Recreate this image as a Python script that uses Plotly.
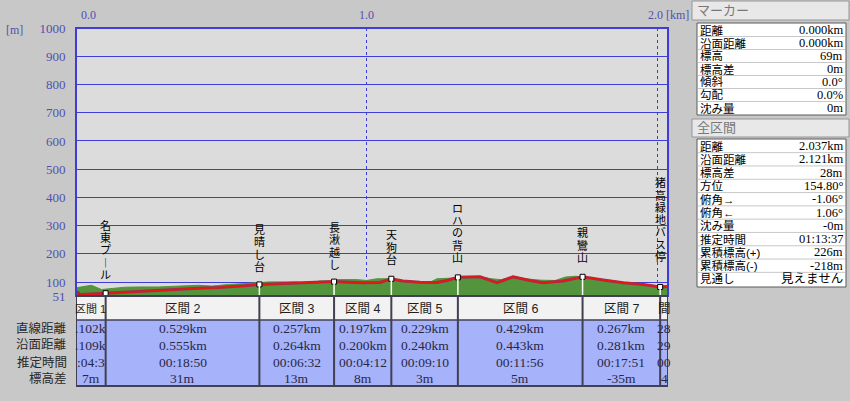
import plotly.graph_objects as go

# ---------------- data ----------------
route_km = [0.000, 0.050, 0.102, 0.160, 0.208, 0.260, 0.322, 0.380, 0.436, 0.490,
            0.529, 0.580, 0.631, 0.700, 0.780, 0.840, 0.888, 0.940, 0.987, 1.046,
            1.085, 1.125, 1.183, 1.242, 1.277, 1.314, 1.390, 1.449, 1.504, 1.562,
            1.607, 1.676, 1.743, 1.814, 1.883, 1.952, 2.010, 2.037]
route_elev = [55, 58, 61, 64, 67, 70, 72, 76, 79, 81,
              83, 87, 92, 94, 97, 99, 102, 100, 98, 99,
              112, 104, 100, 99, 106, 117, 119, 98, 119, 106,
              98, 104, 119, 108, 98, 92, 83, 85]

terrain_km = [0.000, 0.029, 0.053, 0.088, 0.122, 0.167, 0.215, 0.284, 0.353, 0.422,
              0.467, 0.525, 0.581, 0.629, 0.667, 0.760, 0.790, 0.815, 0.838, 0.884,
              0.897, 0.966, 1.000, 1.035, 1.080, 1.125, 1.218, 1.242, 1.286, 1.310,
              1.343, 1.394, 1.428, 1.463, 1.504, 1.545, 1.600, 1.649, 1.684, 1.718,
              1.739, 1.807, 1.866, 1.924, 1.979, 2.010, 2.037]
terrain_elev = [80, 86, 89, 74, 77, 82, 83, 83, 86, 89,
                86, 92, 95, 98, 101, 101, 97, 97, 104, 104,
                109, 109, 106, 112, 112, 101, 100, 112, 114, 116,
                115, 119, 112, 109, 119, 112, 107, 106, 118, 121,
                119, 107, 95, 92, 88, 85, 88]

wp_km = [0.102, 0.631, 0.888, 1.085, 1.314, 1.743, 2.010]
wp_elev = [61, 92, 102, 112, 117, 119, 83]
wp_names = ["名東プール", "見晴し台", "長湫越し", "天狗台", "ロハの背山", "親鸞山", "猪高緑地バス停"]

sec_bounds = [0.0, 0.102, 0.631, 0.888, 1.085, 1.314, 1.743, 2.010, 2.037]
sec_titles = ["区間 1", "区間 2", "区間 3", "区間 4", "区間 5", "区間 6", "区間 7", "間"]
row_labels = ["直線距離", "沿面距離", "推定時間", "標高差"]
straight_dist = [".102k", "0.529km", "0.257km", "0.197km", "0.229km", "0.429km", "0.267km", "28"]
surface_dist = [".109k", "0.555km", "0.264km", "0.200km", "0.240km", "0.443km", "0.281km", "29"]
est_time = [":04:3", "00:18:50", "00:06:32", "00:04:12", "00:09:10", "00:11:56", "00:17:51", "00"]
elev_diff = ["7m", "31m", "13m", "8m", "3m", "5m", "-35m", "4"]

y_ticks = [51, 100, 200, 300, 400, 500, 600, 700, 800, 900, 1000]
x_ticks = [0.0, 1.0, 2.0]
x_tick_text = ["0.0", "1.0", "2.0"]

marker_labels = ["距離", "沿面距離", "標高", "標高差", "傾斜", "勾配", "沈み量"]
marker_values = ["0.000km", "0.000km", "69m", "0m", "0.0°", "0.0%", "0m"]
total_labels = ["距離", "沿面距離", "標高差", "方位", "俯角→", "俯角←", "沈み量",
                "推定時間", "累積標高(+)", "累積標高(-)", "見通し"]
total_values = ["2.037km", "2.121km", "28m", "154.80°", "-1.06°", "1.06°", "-0m",
                "01:13:37", "226m", "-218m", "見えません"]

# ---------------- geometry helpers ----------------
W, H = 850, 401
ML, MR, MT, MB = 76, 182, 28, 105
PW, PH = W - ML - MR, H - MT - MB


def px(x):
    return (x - ML) / PW


def py(y):
    return (H - MB - y) / PH


JP = "Liberation Sans, Noto Sans CJK JP"
SERIF = "Liberation Serif, Noto Sans CJK JP"
BLUE = "rgb(62,62,215)"
TICKC = "rgb(80,80,175)"
DARK = "rgb(64,64,80)"

fig = go.Figure()

fig.add_trace(go.Scatter(x=terrain_km, y=terrain_elev, mode="lines", fill="tozeroy",
                         line=dict(color="rgb(84,148,60)", width=1),
                         fillcolor="rgb(84,148,60)", hoverinfo="skip"))
fig.add_trace(go.Scatter(x=route_km, y=route_elev, mode="lines",
                         line=dict(color="rgb(150,50,80)", width=3), hoverinfo="skip"))
fig.add_trace(go.Scatter(x=route_km, y=route_elev, mode="lines",
                         line=dict(color="rgb(232,22,22)", width=1.8), hoverinfo="skip"))

shapes = []
annotations = []

# white drop lines at waypoints
for k, e in zip(wp_km, wp_elev):
    shapes.append(dict(type="line", xref="x", yref="y", x0=k, x1=k, y0=51, y1=e,
                       line=dict(color="white", width=1.5), layer="above"))

fig.add_trace(go.Scatter(x=wp_km, y=wp_elev, mode="markers",
                         marker=dict(symbol="square", size=5, color="white",
                                     line=dict(color="black", width=1)), hoverinfo="skip"))
fig.add_trace(go.Scatter(x=route_km[:1], y=route_elev[:1], mode="markers",
                         marker=dict(symbol="circle", size=8, color="rgb(200,30,30)",
                                     line=dict(color="rgb(120,60,40)", width=1)), hoverinfo="skip"))

# plot frame
shapes.append(dict(type="rect", xref="paper", yref="paper", x0=0, x1=1, y0=0, y1=1,
                   line=dict(color=BLUE, width=2), layer="above"))

# waypoint vertical labels (one annotation per character, stacked)
label_bottom = [281, 273, 271, 266, 264, 264, 263]
VP = 12.3
for k, name, bot in zip(wp_km, wp_names, label_bottom):
    chars = list(name.replace("ー", "︱"))
    n = len(chars)
    for i, ch in enumerate(chars):
        cy = bot - (n - 1 - i) * VP - VP / 2
        annotations.append(dict(x=k, y=py(cy), xref="x", yref="paper", text=ch,
                                showarrow=False, xanchor="center", yanchor="middle",
                                borderpad=0,
                                font=dict(family=JP, size=11, color="black")))

# top axis labels
top_shift = [12, 0, -2]
for xv, tt, sh in zip(x_ticks, x_tick_text, top_shift):
    annotations.append(dict(x=xv, y=py(15), xref="x", yref="paper", text=tt, xshift=sh,
                            showarrow=False, xanchor="center", yanchor="middle",
                            font=dict(family=SERIF, size=12, color=TICKC)))
annotations.append(dict(x=px(664), y=py(15), xref="paper", yref="paper", text="[km]",
                        showarrow=False, xanchor="left", yanchor="middle",
                        font=dict(family=SERIF, size=12, color=TICKC)))
annotations.append(dict(x=px(4), y=py(30), xref="paper", yref="paper", text="[m]",
                        showarrow=False, xanchor="left", yanchor="middle",
                        font=dict(family=SERIF, size=12, color=TICKC)))

# ---------------- section table ----------------
T0, T1, T2 = 297, 320, 386
shapes.append(dict(type="rect", xref="x", yref="paper", x0=sec_bounds[0], x1=sec_bounds[-1],
                   y0=py(T1), y1=py(T0), fillcolor="rgb(242,242,242)", line=dict(width=0)))
shapes.append(dict(type="rect", xref="x", yref="paper", x0=sec_bounds[0], x1=sec_bounds[-1],
                   y0=py(T2), y1=py(T1), fillcolor="rgb(166,178,250)", line=dict(width=0)))
shapes.append(dict(type="line", xref="x", yref="paper", x0=sec_bounds[0], x1=sec_bounds[-1],
                   y0=py(T1), y1=py(T1), line=dict(color=DARK, width=1.5)))
for b in sec_bounds[1:-1]:
    shapes.append(dict(type="line", xref="x", yref="paper", x0=b, x1=b,
                       y0=py(T2), y1=py(T0), line=dict(color=DARK, width=2)))
shapes.append(dict(type="rect", xref="x", yref="paper", x0=sec_bounds[0], x1=sec_bounds[-1],
                   y0=py(T2), y1=py(296), line=dict(color=DARK, width=2)))

row_y = [328, 345, 362, 378]
rows = [straight_dist, surface_dist, est_time, elev_diff]
for i in range(len(sec_titles)):
    xc = (sec_bounds[i] + sec_bounds[i + 1]) / 2
    fs = 11 if i == 0 else 12.5
    annotations.append(dict(x=xc, y=py(309), xref="x", yref="paper", text=sec_titles[i],
                            showarrow=False, xanchor="center", yanchor="middle", borderpad=0,
                            font=dict(family=JP, size=fs, color="rgb(30,30,30)")))
    for ry, vals in zip(row_y, rows):
        annotations.append(dict(x=xc, y=py(ry), xref="x", yref="paper", text=vals[i],
                                showarrow=False, xanchor="center", yanchor="middle", borderpad=0,
                                font=dict(family=SERIF, size=13.5, color="rgb(40,40,70)")))
for ry, lab in zip(row_y, row_labels):
    annotations.append(dict(x=px(68), y=py(ry), xref="paper", yref="paper", text=lab,
                            showarrow=False, xanchor="right", yanchor="middle", borderpad=0,
                            font=dict(family=JP, size=12.5, color="rgb(40,40,40)")))

# ---------------- right panel ----------------
def header_bar(y0, y1, text):
    shapes.append(dict(type="rect", xref="paper", yref="paper", x0=px(692), x1=px(849),
                       y0=py(y1), y1=py(y0), fillcolor="rgb(232,232,232)",
                       line=dict(color="rgb(150,150,150)", width=1)))
    annotations.append(dict(x=px(695), y=py((y0 + y1) / 2), xref="paper", yref="paper",
                            text=text, showarrow=False, xanchor="left", yanchor="middle",
                            font=dict(family=JP, size=13, color="rgb(120,120,120)")))


def info_box(y0, y1, first, step, labels, values):
    shapes.append(dict(type="rect", xref="paper", yref="paper", x0=px(697), x1=px(846),
                       y0=py(y1), y1=py(y0), fillcolor="white",
                       line=dict(color="rgb(90,90,90)", width=1)))
    for i, (lab, val) in enumerate(zip(labels, values)):
        cy = first + i * step
        if i > 0:
            shapes.append(dict(type="line", xref="paper", yref="paper", x0=px(698), x1=px(845),
                               y0=py(cy - step / 2), y1=py(cy - step / 2),
                               line=dict(color="rgb(200,200,200)", width=1)))
        annotations.append(dict(x=px(699), y=py(cy), xref="paper", yref="paper", text=lab,
                                showarrow=False, xanchor="left", yanchor="middle", borderpad=0,
                                font=dict(family=JP, size=11.5, color="black")))
        annotations.append(dict(x=px(844), y=py(cy), xref="paper", yref="paper", text=val,
                                showarrow=False, xanchor="right", yanchor="middle", borderpad=0,
                                font=dict(family=SERIF, size=12.5, color="black")))


header_bar(1, 20, "マーカー")
info_box(23, 115, 30, 13, marker_labels, marker_values)
header_bar(119, 137, "全区間")
info_box(139, 287, 146, 13.3, total_labels, total_values)

fig.update_layout(
    width=W, height=H,
    margin=dict(l=ML, r=MR, t=MT, b=MB, pad=0),
    paper_bgcolor="rgb(200,200,200)",
    plot_bgcolor="rgb(220,220,220)",
    showlegend=False,
    shapes=shapes,
    annotations=annotations,
    xaxis=dict(range=[sec_bounds[0], sec_bounds[-1]], tickvals=x_ticks, showticklabels=False,
               showgrid=True, gridcolor=BLUE, gridwidth=1, griddash="dot",
               zeroline=False, showline=False, ticks=""),
    yaxis=dict(range=[51, 1000], tickvals=y_ticks, showgrid=True, gridcolor=BLUE, gridwidth=1,
               zeroline=False, showline=False, ticks="outside", ticklen=7,
               tickcolor="rgba(0,0,0,0)",
               tickfont=dict(family=SERIF, size=13, color=TICKC)),
)

fig.write_html("out.html", config={"displayModeBar": False},
               post_script="document.body.style.margin='0';document.body.style.overflow='hidden';")
